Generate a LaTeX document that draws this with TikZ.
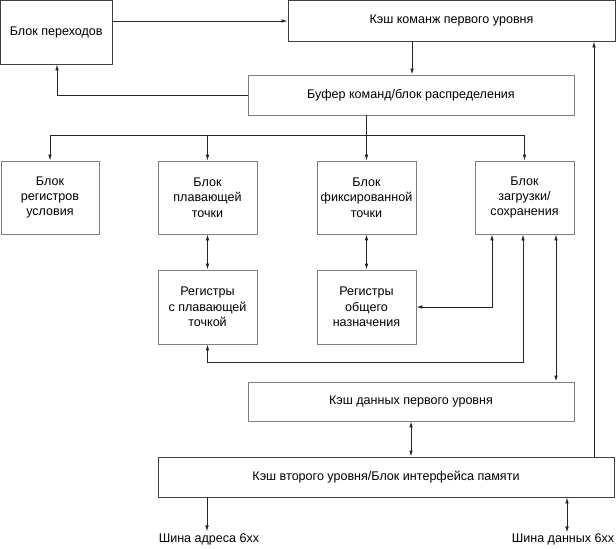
\documentclass[tikz,border=0pt]{standalone}
\usepackage{fontspec}
\setmainfont{Liberation Sans}
\usetikzlibrary{arrows.meta}
\begin{document}
\begin{tikzpicture}[x=1bp,y=-1bp,
  blk/.style={draw=black!50, line width=0.9bp, fill=white, inner sep=0pt, align=center,
    font=\fontsize{12.6}{15.5}\selectfont},
  dblk/.style={blk, draw=black!75},
  lbl/.style={inner sep=0pt, font=\fontsize{12.6}{15.5}\selectfont},
  conn/.style={draw=black!85, line width=0.8bp},
  tip/.tip={Latex[length=6bp,width=3.6bp]},
  arr/.style={conn,-tip},
  barr/.style={conn,tip-tip}]
\useasboundingbox (0,0) rectangle (616,549);
% boxes
\node[dblk, minimum width=111.5bp, minimum height=63.5bp] (br)  at (56.25,32.25) {Блок переходов};
\node[dblk, minimum width=327bp, minimum height=40.5bp]   (ic)  at (451.5,20.75) {Кэш команж первого уровня};
\node[blk, minimum width=326bp, minimum height=40bp]     (buf) at (411,95) {Буфер команд/блок распределения};
\node[blk, minimum width=98bp, minimum height=73bp] (cr)  at (50,197.5)   {Блок\\регистров\\условия};
\node[blk, minimum width=99bp, minimum height=73bp] (fpu) at (207.5,197.5){Блок\\плавающей\\точки};
\node[blk, minimum width=99bp, minimum height=73bp] (fxu) at (366.5,197.5){Блок\\фиксированной\\точки};
\node[blk, minimum width=99bp, minimum height=73bp] (lsu) at (524.5,197.5){Блок\\загрузки/\\сохранения};
\node[blk, minimum width=99bp, minimum height=74bp] (fpr) at (207.5,307)  {Регистры\\с плавающей\\точкой};
\node[blk, minimum width=99bp, minimum height=74bp] (gpr) at (366.5,307)  {Регистры\\общего\\назначения};
\node[blk, minimum width=326bp, minimum height=39bp] (dc) at (411,401.5) {Кэш данных первого уровня};
\node[dblk, minimum width=456bp, minimum height=40bp] (l2) at (386,477) {Кэш второго уровня/Блок интерфейса памяти};
\node[lbl] (ab) at (209,539) {Шина адреса 6xx};
\node[lbl] (db) at (563,539) {Шина данных 6xx};
% coordinates
\coordinate (bus) at (0,135);
\coordinate (lp) at (0,362);
\coordinate (rl) at (594,0);
\coordinate (abx) at (207,0);
\coordinate (dbx) at (567,0);
% connectors
\draw[arr] (br.east |- 0,21) -- (ic.west |- 0,21);
\draw[arr] (buf.north |- ic.south) ++(1,0) coordinate (icb) (icb) -- (icb |- buf.north);
\draw[arr] (buf.west) -| ([xshift=0.75bp]br.south);
\draw[conn] (fxu.north |- buf.south) -- (fxu.north |- bus);
\draw[conn] (cr.north |- bus) -- (lsu.north |- bus);
\draw[arr] (cr.north |- bus) -- (cr.north);
\draw[arr] (fpu.north |- bus) -- (fpu.north);
\draw[arr] (fxu.north |- bus) -- (fxu.north);
\draw[arr] (lsu.north |- bus) -- (lsu.north);
\draw[barr] (fpu.south) -- (fpr.north);
\draw[barr] (fxu.south) -- (gpr.north);
\draw[barr] ([xshift=-32.5bp]lsu.south) |- (gpr.east);
\draw[barr] ([xshift=-1.5bp]lsu.south) -- ([xshift=-1.5bp]lsu.south |- lp) -| (fpr.south);
\draw[barr] ([xshift=31.5bp]lsu.south) -- ([xshift=31.5bp]lsu.south |- dc.north);
\draw[barr] (dc.south) -- (dc.south |- l2.north);
\draw[arr] (rl |- l2.north) -- (rl |- ic.south);
\draw[arr] (abx |- l2.south) -- ([yshift=-34bp]abx |- l2.south);
\draw[barr] (dbx |- l2.south) -- ([yshift=-35bp]dbx |- l2.south);
\end{tikzpicture}
\end{document}
